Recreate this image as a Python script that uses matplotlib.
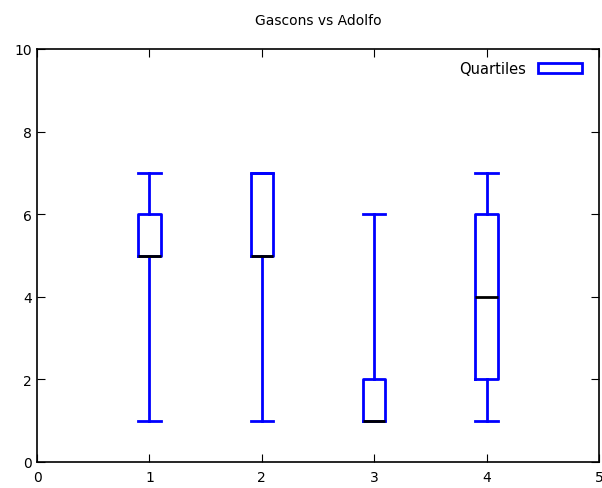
import matplotlib
matplotlib.use("Agg")
import matplotlib.pyplot as plt
from matplotlib.patches import Rectangle

positions = [1, 2, 3, 4]
mins = [1, 1, 1, 1]
q1s = [5, 5, 1, 2]
medians = [5, 5, 1, 4]
q3s = [6, 7, 2, 6]
maxs = [7, 7, 6, 7]

fig = plt.figure(figsize=(6.02, 4.89), dpi=100)
ax = fig.add_axes([37/602, (489-463)/489, (599-37)/602, (463-50)/489])

stats = [dict(whislo=a, q1=b, med=c, q3=d, whishi=e, fliers=[])
         for a, b, c, d, e in zip(mins, q1s, medians, q3s, maxs)]
ax.bxp(stats, positions=positions, widths=0.2, showfliers=False,
       boxprops=dict(color='blue', linewidth=2),
       whiskerprops=dict(color='blue', linewidth=2),
       capprops=dict(color='blue', linewidth=2),
       medianprops=dict(color='black', linewidth=2),
       capwidths=0.2, manage_ticks=False)

ax.set_xlim(0, 5)
ax.set_ylim(0, 10)
ax.set_xticks([0, 1, 2, 3, 4, 5])
ax.set_yticks([0, 2, 4, 6, 8, 10])
ax.tick_params(direction='in', top=True, right=True, labelsize=10, length=6)
ax.tick_params(axis='x', pad=6)
for s in ax.spines.values():
    s.set_linewidth(1.2)
ax.set_title('Gascons vs Adolfo', fontsize=10, pad=18)

handle = Rectangle((0, 0), 1, 1, facecolor='white', edgecolor='blue', linewidth=2)
ax.legend([handle], ['Quartiles'], loc='upper right', frameon=False,
          markerfirst=False, fontsize=10.5, handlelength=3.0, handleheight=0.7,
          handletextpad=0.8, borderaxespad=0.8, bbox_to_anchor=(1.0, 1.013))

fig.savefig('out.png', dpi=100)
